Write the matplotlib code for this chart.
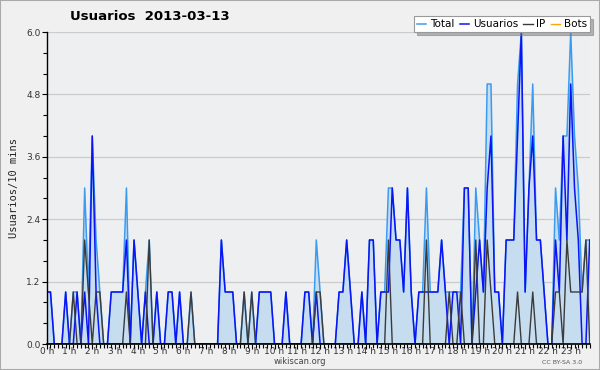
import matplotlib
matplotlib.use("Agg")
import matplotlib.pyplot as plt
from matplotlib.ticker import MultipleLocator, FixedLocator
from matplotlib.patches import Rectangle

# one value per 10 minutes, 144 points (00:00 .. 23:50)
usuarios = [1, 1, 0, 0, 0, 1, 0, 0, 1, 0, 1, 0, 4, 1, 0, 0, 0, 1,
            1, 1, 1, 2, 0, 2, 1, 0, 1, 0, 0, 1, 0, 0, 1, 1, 0, 1,
            0, 0, 0, 0, 0, 0, 0, 0, 0, 0, 2, 1, 1, 1, 0, 0, 0, 0,
            0, 0, 1, 1, 1, 1, 0, 0, 0, 1, 0, 0, 0, 0, 1, 1, 0, 1,
            0, 0, 0, 0, 0, 1, 1, 2, 1, 0, 0, 1, 0, 2, 2, 0, 1, 1,
            1, 3, 2, 2, 1, 3, 1, 0, 1, 1, 1, 1, 1, 1, 2, 1, 0, 1,
            1, 0, 3, 3, 0, 1, 2, 1, 3, 4, 1, 1, 0, 2, 2, 2, 4, 6,
            1, 3, 4, 2, 2, 1, 0, 0, 2, 1, 4, 2, 5, 3, 2, 0, 0, 2]
ip = [0, 0, 0, 0, 0, 0, 0, 1, 0, 0, 2, 1, 0, 1, 1, 0, 0, 0,
      0, 0, 0, 1, 0, 0, 0, 0, 0, 2, 0, 0, 0, 0, 0, 0, 0, 0,
      0, 0, 1, 0, 0, 0, 0, 0, 0, 0, 0, 0, 0, 0, 0, 0, 1, 0,
      1, 0, 0, 0, 0, 0, 0, 0, 0, 0, 0, 0, 0, 0, 0, 0, 0, 1,
      1, 0, 0, 0, 0, 0, 0, 0, 0, 0, 0, 0, 0, 0, 0, 0, 0, 0,
      2, 0, 0, 0, 0, 0, 0, 0, 0, 0, 2, 0, 0, 0, 0, 0, 1, 0,
      0, 1, 0, 0, 0, 2, 0, 0, 2, 1, 0, 0, 0, 0, 0, 0, 1, 0,
      0, 0, 1, 0, 0, 0, 0, 0, 1, 1, 0, 2, 1, 1, 1, 1, 2, 0]
total = [1, 1, 0, 0, 0, 1, 0, 1, 1, 0, 3, 1, 4, 2, 1, 0, 0, 1,
         1, 1, 1, 3, 0, 2, 1, 0, 1, 2, 0, 1, 0, 0, 1, 1, 0, 1,
         0, 0, 1, 0, 0, 0, 0, 0, 0, 0, 2, 1, 1, 1, 0, 0, 1, 0,
         1, 0, 1, 1, 1, 1, 0, 0, 0, 1, 0, 0, 0, 0, 1, 1, 0, 2,
         1, 0, 0, 0, 0, 1, 1, 2, 1, 0, 0, 1, 0, 2, 2, 0, 1, 1,
         3, 3, 2, 2, 1, 3, 1, 0, 1, 1, 3, 1, 1, 1, 2, 1, 1, 1,
         1, 1, 3, 3, 0, 3, 2, 1, 5, 5, 1, 1, 0, 2, 2, 2, 5, 6,
         1, 3, 5, 2, 2, 1, 0, 0, 3, 2, 4, 4, 6, 4, 3, 1, 2, 2]
bots = [0] * 144
hour_labels = ["%d h" % h for h in range(24)]

x = list(range(len(total)))

fig = plt.figure(figsize=(6, 3.7), dpi=100, facecolor="#f0f0f0")
ax = fig.add_axes([46.7 / 600, 26 / 370, 543 / 600, 312 / 370])
ax.set_facecolor("#eeeff1")

ax.fill_between(x, total, color="#c6dcef", lw=0, zorder=1)
ax.plot(x, total, color="#3a9cf0", lw=1.1, label="Total", zorder=3)
ax.plot(x, usuarios, color="#0a14f5", lw=1.1, label="Usuarios", zorder=4)
ax.plot(x, ip, color="#3b3b3b", lw=1.0, label="IP", zorder=5)
ax.plot(x, bots, color="#ffa500", lw=1.0, label="Bots", zorder=2)

ax.set_xlim(0, 143)
ax.set_ylim(0, 6)
ax.yaxis.set_major_locator(MultipleLocator(1.2))
ax.yaxis.set_minor_locator(MultipleLocator(0.4))
ax.yaxis.set_major_formatter(plt.FormatStrFormatter("%.1f"))
ax.xaxis.set_major_locator(FixedLocator(range(0, 144, 6)))
ax.xaxis.set_minor_locator(MultipleLocator(1))
ax.set_xticklabels(hour_labels)
ax.grid(axis="y", which="major", color="#cccccc", lw=0.9, zorder=0)
ax.set_axisbelow(True)

for s in ("top", "right"):
    ax.spines[s].set_visible(False)
ax.spines["left"].set_linewidth(1.0)
ax.spines["bottom"].set_linewidth(1.2)
ax.spines["left"].set_zorder(6)
ax.spines["bottom"].set_zorder(6)
ax.tick_params(axis="both", which="major", length=3.5, width=0.8,
               labelsize=6.5, labelcolor="#333333", pad=1)
ax.tick_params(axis="x", which="major", pad=-1)
ax.tick_params(axis="both", which="minor", length=3, width=0.8)

ax.set_ylabel("Usuarios/10 mins", fontsize=7.5, family="DejaVu Sans Mono",
              labelpad=5, color="#222222")

fig.text(150 / 600, 1 - 17 / 370, "Usuarios  2013-03-13", ha="center",
         va="center", fontsize=9.5, fontweight="bold")
fig.text(300 / 600, 1 - 362 / 370, "wikiscan.org", ha="center", va="center",
         fontsize=6, color="#444444")
fig.text(562 / 600, 1 - 362 / 370, "CC BY-SA 3.0", ha="center", va="center",
         fontsize=4.5, color="#555555")

leg = fig.legend(loc="upper right", bbox_to_anchor=(593 / 600, 1 - 13 / 370),
                 ncol=4, fontsize=7.5, handlelength=0.9, handletextpad=0.35,
                 columnspacing=0.5, borderpad=0.3, borderaxespad=0.3,
                 fancybox=False, shadow={"color": "#777777"}, framealpha=1)
leg.get_frame().set_edgecolor("#999999")
leg.get_frame().set_linewidth(0.8)

fig.patches.append(Rectangle((0, 0), 1, 1, transform=fig.transFigure,
                             fill=False, edgecolor="#aaaaaa", lw=1.5))

fig.savefig("out.png", dpi=100, facecolor=fig.get_facecolor())
